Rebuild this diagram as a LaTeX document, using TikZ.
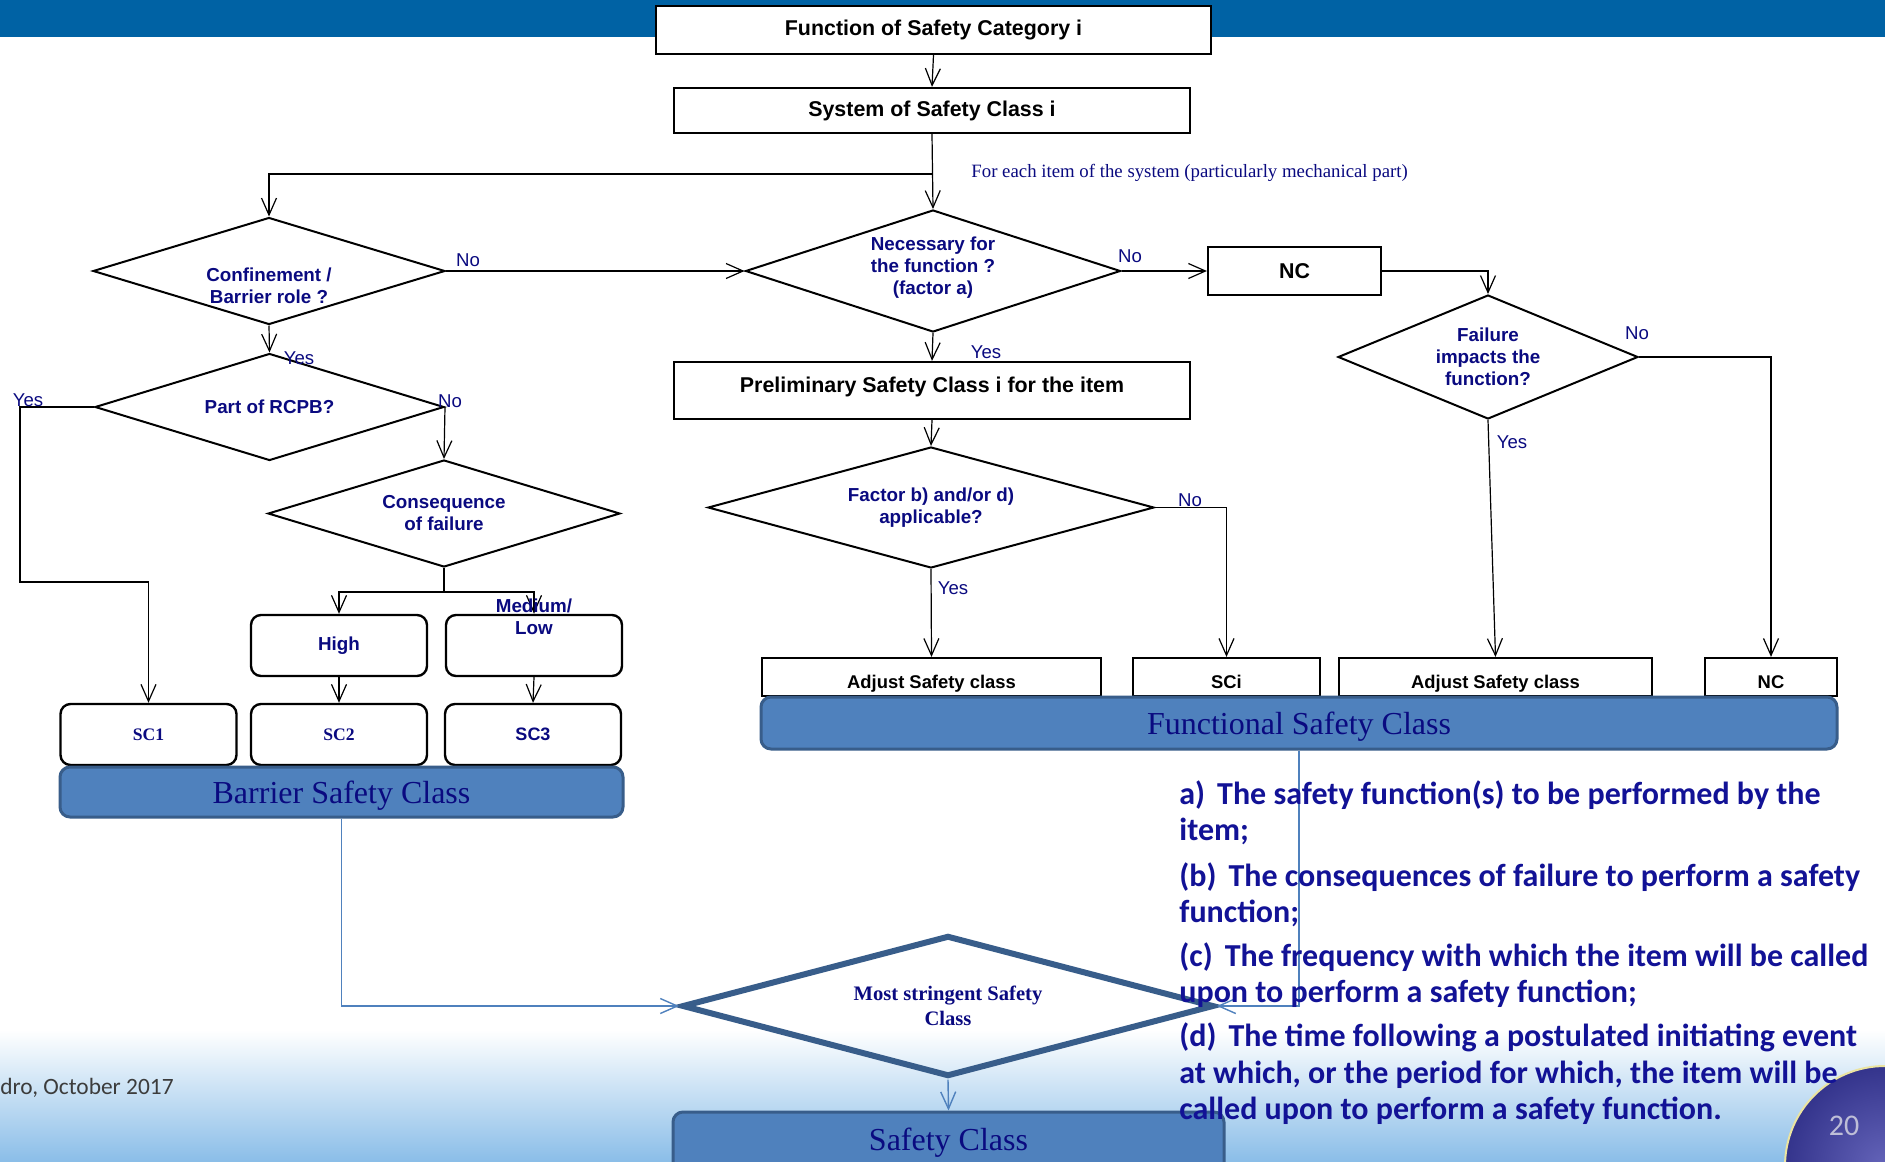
\documentclass[tikz,border=0pt]{standalone}
\usepackage{fontspec}
\setmainfont{Liberation Serif}
\setsansfont{Liberation Sans}
\newfontfamily\calib{Carlito}
\usepackage{xcolor}
\usetikzlibrary{shapes.geometric,arrows.meta}

\definecolor{banner}{RGB}{0,98,164}
\definecolor{ink}{RGB}{10,10,128}
\definecolor{listblue}{RGB}{18,18,150}
\definecolor{barfill}{RGB}{79,129,189}
\definecolor{barline}{RGB}{56,93,138}
\definecolor{skyblue}{RGB}{138,189,232}
\definecolor{footgray}{RGB}{60,60,60}
\definecolor{pagedark}{RGB}{52,52,140}
\definecolor{pagelight}{RGB}{100,100,185}
\definecolor{pagerim}{RGB}{235,228,160}
\definecolor{pagegrey}{RGB}{190,190,215}

\tikzset{
  boxq/.style={draw, line width=1.1pt, fill=white, inner sep=0pt,
    font=\sffamily\bfseries\fontsize{10.7}{12}\selectfont},
  boxs/.style={boxq, minimum height=19pt, text height=11pt, text depth=0pt, font=\sffamily\bfseries\fontsize{9.2}{11}\selectfont},
  asktxt/.style={align=center, text=ink, inner sep=0pt,
    font=\sffamily\bfseries\fontsize{9.4}{11}\selectfont},
  ask/.style={asktxt, diamond, aspect=3, draw, line width=1pt, fill=white},
  rbox/.style={draw, rounded corners=5pt, line width=1.2pt, fill=white, inner sep=0pt,
    text=ink, minimum width=88pt, minimum height=30.5pt},
  bar/.style={draw=barline, fill=barfill, line width=1.5pt, rounded corners=5pt,
    text=ink, text depth=0pt, font=\fontsize{16}{18}\selectfont},
  yn/.style={text=ink, inner sep=0pt, font=\sffamily\fontsize{9.3}{11}\selectfont},
  arr/.style={-{Straight Barb[length=8.5pt,width=7.5pt]}, line width=0.6pt},
  barr/.style={arr, draw=barfill, line width=0.7pt},
  listtxt/.style={anchor=west, align=left, inner sep=0pt, text=listblue,
    font=\calib\bfseries\fontsize{16}{18.25}\selectfont}
}

\begin{document}
\begin{tikzpicture}[x=0.5pt,y=-0.5pt]
\useasboundingbox (0,0) rectangle (1885,1162);
\clip (0,0) rectangle (1885,1162);
% slide background
\fill[white] (0,0) rectangle (1885,1162);
\shade[top color=white, bottom color=skyblue] (0,1030) rectangle (1885,1162);
\fill[banner] (0,0) rectangle (1885,37);
\node[anchor=east, inner sep=0pt, text=footgray, font=\calib\fontsize{11.7}{14}\selectfont] (footer) at (174,1088) {dro, October 2017};

  \node[boxq, minimum width=277.5pt, minimum height=24pt] (cat) at (933.5,30) {Function of Safety Category i};
  \node[boxq, minimum width=258pt, minimum height=22.5pt] (sys) at (932,110.5) {System of Safety Class i};
  \node[anchor=west, inner sep=0pt, text=ink, font=\fontsize{9.4}{11}\selectfont] (foreach) at (971,173) {For each item of the system (particularly mechanical part)};

  \node[ask, minimum width=176pt, minimum height=53.5pt] (confine) at (269,271) {};
  \node[asktxt] (confinetxt) at (269,286) {Confinement /\\Barrier role ?};
  \node[ask, minimum width=187.5pt, minimum height=61pt, text depth=5pt] (need) at (933,271) {Necessary for\\the function ?\\(factor a)};
  \node[boxq, minimum width=86.5pt, minimum height=24pt] (nc) at (1294.5,271) {NC};
  \node[ask, minimum width=150pt, minimum height=62pt] (fail) at (1488,357) {Failure\\impacts the\\function?};
  \node[boxq, minimum width=258pt, minimum height=28.5pt, text depth=6pt] (prelim) at (932,390.5) {Preliminary Safety Class i for the item};
  \node[ask, minimum width=223pt, minimum height=60.5pt] (factor) at (931,507.5) {Factor b) and/or d)\\applicable?};

  \node[boxs, minimum width=169.5pt] (adj1) at (931.5,677) {Adjust Safety class};
  \node[boxs, minimum width=93.5pt] (sci) at (1226.5,677) {SCi};
  \node[boxs, minimum width=156.5pt] (adj2) at (1495.5,677) {Adjust Safety class};
  \node[boxs, minimum width=66pt] (nc2) at (1771,677) {NC};
  \node[bar, minimum width=538pt, minimum height=26pt] (func) at (1299,723) {Functional Safety Class};

  \node[ask, minimum width=174.5pt, minimum height=53.5pt] (rcpb) at (269.5,407) {Part of RCPB?};
  \node[ask, minimum width=176pt, minimum height=53.5pt] (conseq) at (444,513.5) {Consequence\\of failure};
  \node[rbox, font=\sffamily\bfseries\fontsize{9.4}{11}\selectfont] (high) at (339,645.5) {High};
  \node[rbox] (med) at (534,645.5) {};
  \node[rbox, font=\bfseries\fontsize{8.8}{10}\selectfont] (sc1) at (148.5,734.5) {SC1};
  \node[rbox, font=\bfseries\fontsize{8.8}{10}\selectfont] (sc2) at (339,734.5) {SC2};
  \node[rbox, font=\sffamily\bfseries\fontsize{9}{10}\selectfont] (sc3) at (533,734.5) {SC3};
  \node[bar, minimum width=281.5pt, minimum height=25pt] (barrier) at (341.5,792) {Barrier Safety Class};

  \node[diamond, aspect=3, draw=barline, line width=3pt, minimum width=266pt, minimum height=70.5pt, inner sep=0pt,
    align=center, text=ink, font=\bfseries\fontsize{10.3}{12.5}\selectfont] (strict) at (948,1006) {Most stringent Safety\\Class};
  \node[bar, minimum width=275.5pt, minimum height=31.5pt, text depth=4pt] (safety) at (948.5,1143.5) {Safety Class};

 \coordinate (fork) at (933,174);
 \coordinate (yesturn) at (20,582);
 \coordinate (split) at (444,592);
	\draw [arr] (cat.south)--(sys.north);
	\draw [arr] (sys.south)--(need.north);
	\draw [arr] (fork) -| (confine.north);
	\draw [arr] (confine.east)--(need.west);
	\draw [arr] (need.east)--(nc.west);
	\draw [arr] (nc.east) -| (fail.north);
	\draw [arr] (fail.east) -| (nc2.north);
	\draw [arr] (fail.south)--(adj2.north);
	\draw [arr] (need.south)--(prelim.north);
	\draw [arr] (prelim.south)--(factor.north);
	\draw [arr] (factor.south)--(adj1.north);
	\draw [arr] (factor.east) -| (sci.north);
	\draw [arr] (confine.south)--(rcpb.north);
	\draw [arr] (rcpb.west) -| (yesturn) -| (sc1.north);
	\draw [arr] (rcpb.east)--(conseq.north);
	\draw [line width=0.6pt] (conseq.south)--(split);
	\draw [arr] (split) -| (high.north);
	\draw [arr] (split) -| (med.north);
	\draw [arr] (high.south)--(sc2.north);
	\draw [arr] (med.south)--(sc3.north);
	\draw [barr] (barrier.south) |- (strict.west);
	\draw [barr] (func.south) |- (strict.east);
	\draw [barr] (strict.south)--(safety.north);

  \node[asktxt] (medtxt) at (534,617) {Medium/\\Low};
  \node[yn] (noconf) at (468,260) {No};
  \node[yn] (noneed) at (1130,256) {No};
  \node[yn] (nofail) at (1637,333) {No};
  \node[yn] (yesneed) at (986,352) {Yes};
  \node[yn] (yesfail) at (1512,442) {Yes};
  \node[yn] (yesfactor) at (953,588) {Yes};
  \node[yn] (nofactor) at (1190,500) {No};
  \node[yn] (yesconf) at (299,358) {Yes};
  \node[yn] (yesrcpb) at (28,400) {Yes};
  \node[yn] (norcpb) at (450,401) {No};

\shadedraw[draw=pagerim, line width=1pt, inner color=pagelight, outer color=pagedark] (1885,1166) circle[radius=50pt];
\node[text=pagegrey, font=\calib\fontsize{15}{18}\selectfont] (pagenum) at (1844,1126) {20};

  \node[listtxt] (itema) at (1179,813) {a)\hspace{6pt}The safety function(s) to be performed by the\\item;};
  \node[listtxt] (itemb) at (1179,895) {(b)\hspace{6pt}The consequences of failure to perform a safety\\function;};
  \node[listtxt] (itemc) at (1179,975) {(c)\hspace{6pt}The frequency with which the item will be called\\upon to perform a safety function;};
  \node[listtxt] (itemd) at (1179,1074) {(d)\hspace{6pt}The time following a postulated initiating event\\at which, or the period for which, the item will be\\called upon to perform a safety function.};
  %\node (title) at (933,-20) {};
\end{tikzpicture}
\end{document}
